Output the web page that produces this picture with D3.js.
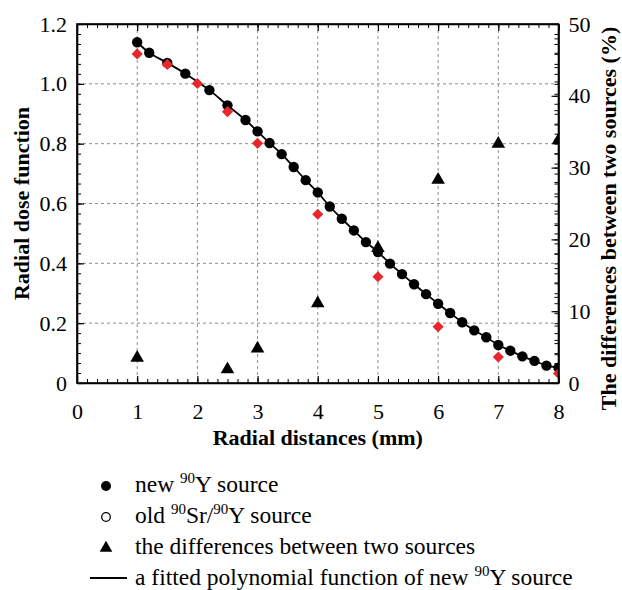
<!DOCTYPE html>
<html lang="en">
<head>
<meta charset="UTF-8">
<title>Radial dose function</title>
<script src="https://d3js.org/d3.v7.min.js"></script>
<style>
  body { margin: 0; background: #fff; }
  svg, svg text { font-family: "Liberation Serif", "DejaVu Serif", serif; fill: #000; }
  .axis-title { font-size: 22px; font-weight: bold; }
  .legend text { font-size: 23.5px; }
  .grid line { stroke: #8c8c8c; stroke-width: 1; stroke-dasharray: 3,3; }
</style>
</head>
<body>
<div id="chart"></div>
<script>
// new 90Y source (left axis)
const newX = [1.0, 1.2, 1.5, 1.8, 2.2, 2.5, 2.8, 3.0, 3.2, 3.4, 3.6, 3.8, 4.0, 4.2, 4.4, 4.6, 4.8,
              5.0, 5.2, 5.4, 5.6, 5.8, 6.0, 6.2, 6.4, 6.6, 6.8, 7.0, 7.2, 7.4, 7.6, 7.8, 8.0];
const newY = [1.139, 1.104, 1.070, 1.034, 0.979, 0.928, 0.879, 0.841, 0.802, 0.765, 0.722, 0.678, 0.637, 0.590, 0.549, 0.510, 0.471,
              0.438, 0.399, 0.364, 0.330, 0.297, 0.265, 0.234, 0.203, 0.176, 0.153, 0.127, 0.108, 0.089, 0.074, 0.058, 0.051];

// old 90Sr/90Y source (left axis)
const oldX = [1, 1.5, 2, 2.5, 3, 4, 5, 6, 7, 8];
const oldY = [1.100, 1.065, 1.001, 0.907, 0.801, 0.564, 0.355, 0.188, 0.087, 0.032];

// differences between the two sources, % (right axis)
const diffX = [1, 2.5, 3, 4, 5, 6, 7, 8];
const diffY = [3.5, 1.9, 4.8, 11.1, 18.8, 28.3, 33.3, 33.8];

const xTicks = [0, 1, 2, 3, 4, 5, 6, 7, 8];
const yTicks = [0, 0.2, 0.4, 0.6, 0.8, 1.0, 1.2];
const y2Ticks = [0, 10, 20, 30, 40, 50];

const W = 622, H = 590;
const margin = {top: 24, right: 63.5, bottom: 207, left: 77};
const width = W - margin.left - margin.right;
const height = H - margin.top - margin.bottom;
const serif = '"Liberation Serif", "DejaVu Serif", serif';

const svg = d3.select("#chart").append("svg")
    .attr("width", W).attr("height", H)
    .attr("font-family", serif);

const g = svg.append("g")
    .attr("transform", `translate(${margin.left},${margin.top})`);

const x = d3.scaleLinear().domain([0, 8]).range([0, width]);
const y = d3.scaleLinear().domain([0, 1.2]).range([height, 0]);
const y2 = d3.scaleLinear().domain([0, 50]).range([height, 0]);

// grille pointillée
const grid = g.append("g").attr("class", "grid");
grid.selectAll(".gx").data(xTicks.slice(1, -1)).join("line")
    .attr("x1", d => x(d)).attr("x2", d => x(d))
    .attr("y1", 0).attr("y2", height);
grid.selectAll(".gy").data(yTicks.slice(1, -1)).join("line")
    .attr("x1", 0).attr("x2", width)
    .attr("y1", d => y(d)).attr("y2", d => y(d));

// graduations secondaires
const xMinor = d3.range(0, 8.0001, 1 / 6);
const yMinor = d3.range(0, 1.2001, 0.2 / 6);
const y2Minor = d3.range(0, 50.001, 2);

function minor(axis, vals, tr) {
  g.append("g").attr("transform", tr)
    .call(axis.tickValues(vals).tickFormat("").tickSize(-4))
    .call(s => s.select(".domain").remove())
    .call(s => s.selectAll("line").attr("stroke-width", 1));
}
minor(d3.axisBottom(x), xMinor, `translate(0,${height})`);
minor(d3.axisTop(x), xMinor, "translate(0,0)");
minor(d3.axisLeft(y), yMinor, "translate(0,0)");
minor(d3.axisRight(y), yMinor, `translate(${width},0)`);
minor(d3.axisRight(y2), y2Minor, `translate(${width},0)`);

// axes principaux
const xAxis = g.append("g").attr("transform", `translate(0,${height})`)
    .call(d3.axisBottom(x).tickValues(xTicks).tickFormat(d3.format("d")).tickSizeInner(-7).tickSizeOuter(0).tickPadding(20));
const xTop = g.append("g")
    .call(d3.axisTop(x).tickValues(xTicks).tickFormat("").tickSizeInner(-7).tickSizeOuter(0));
const yAxis = g.append("g")
    .call(d3.axisLeft(y).tickValues(yTicks).tickFormat(d => d === 0 ? "0" : d3.format(".1f")(d)).tickSizeInner(-7).tickSizeOuter(0).tickPadding(10));
const y2Axis = g.append("g").attr("transform", `translate(${width},0)`)
    .call(d3.axisRight(y2).tickValues(y2Ticks).tickFormat(d3.format("d")).tickSizeInner(-7).tickSizeOuter(0).tickPadding(10));

[xAxis, xTop, yAxis, y2Axis].forEach(a => {
  a.attr("font-family", serif).attr("font-size", 22);
  a.select(".domain").attr("stroke-width", 1.6);
  a.selectAll(".tick line").attr("stroke-width", 1.2);
});

// zone de tracé découpée
g.append("clipPath").attr("id", "clip")
  .append("rect").attr("width", width).attr("height", height);
const plot = g.append("g").attr("clip-path", "url(#clip)");

const newData = newX.map((d, i) => ({x: d, y: newY[i]}));
const oldData = oldX.map((d, i) => ({x: d, y: oldY[i]}));
const diffData = diffX.map((d, i) => ({x: d, y: diffY[i]}));

const line = d3.line().curve(d3.curveCatmullRom)
    .x(d => x(d.x)).y(d => y(d.y));

plot.append("path").datum(newData)
    .attr("fill", "none").attr("stroke", "#000").attr("stroke-width", 1.8)
    .attr("d", line);

plot.selectAll(".pt-new").data(newData).join("circle")
    .attr("cx", d => x(d.x)).attr("cy", d => y(d.y)).attr("r", 5.2)
    .attr("fill", "#000");

plot.selectAll(".pt-old").data(oldData).join("path")
    .attr("transform", d => `translate(${x(d.x)},${y(d.y)}) rotate(45)`)
    .attr("d", d3.symbol(d3.symbolSquare, 62))
    .attr("fill", "#e8262b");

plot.selectAll(".pt-diff").data(diffData).join("path")
    .attr("transform", d => `translate(${x(d.x)},${y2(d.y)})`)
    .attr("d", d3.symbol(d3.symbolTriangle, 80))
    .attr("fill", "#000");

// cadre
g.append("rect").attr("width", width).attr("height", height)
    .attr("fill", "none").attr("stroke", "#000").attr("stroke-width", 1.6);

// titres des axes
svg.append("text").attr("class", "axis-title")
    .attr("x", margin.left + width / 2).attr("y", 445)
    .attr("text-anchor", "middle")
    .text("Radial distances (mm)");

svg.append("text").attr("class", "axis-title")
    .attr("transform", `translate(29,${margin.top + height / 2}) rotate(-90)`)
    .attr("text-anchor", "middle")
    .text("Radial dose function");

svg.append("text").attr("class", "axis-title")
    .attr("transform", `translate(616,${margin.top + height / 2 + 15}) rotate(-90)`)
    .attr("text-anchor", "middle")
    .text("The differences between two sources (%)");

// légende
const legend = svg.append("g").attr("class", "legend");
const rows = [492, 523, 554, 585];
const tx = 135;

legend.append("circle").attr("cx", 106).attr("cy", rows[0] - 6).attr("r", 5).attr("fill", "#000");
legend.append("circle").attr("cx", 106).attr("cy", rows[1] - 6).attr("r", 4.3)
    .attr("fill", "none").attr("stroke", "#000").attr("stroke-width", 1.3);
legend.append("path").attr("transform", `translate(106,${rows[2] - 6})`)
    .attr("d", d3.symbol(d3.symbolTriangle, 70)).attr("fill", "#000");
legend.append("line").attr("x1", 90).attr("x2", 127)
    .attr("y1", rows[3] - 7).attr("y2", rows[3] - 7)
    .attr("stroke", "#000").attr("stroke-width", 1.8);

// texte avec exposants "90"
function addText(yPos, parts) {
  const t = legend.append("text").attr("x", tx).attr("y", yPos);
  let shift = 0;
  parts.forEach(p => {
    if (p.sup) {
      t.append("tspan").attr("font-size", 15).attr("dy", -9 - shift).text(p.sup);
      shift = -9;
    } else {
      t.append("tspan").attr("dy", -shift).text(p.t);
      shift = 0;
    }
  });
}
addText(rows[0], [{t: "new "}, {sup: "90"}, {t: "Y source"}]);
addText(rows[1], [{t: "old "}, {sup: "90"}, {t: "Sr/"}, {sup: "90"}, {t: "Y source"}]);
addText(rows[2], [{t: "the differences between two sources"}]);
addText(rows[3], [{t: "a fitted polynomial function of new "}, {sup: "90"}, {t: "Y source"}]);
</script>
</body>
</html>
